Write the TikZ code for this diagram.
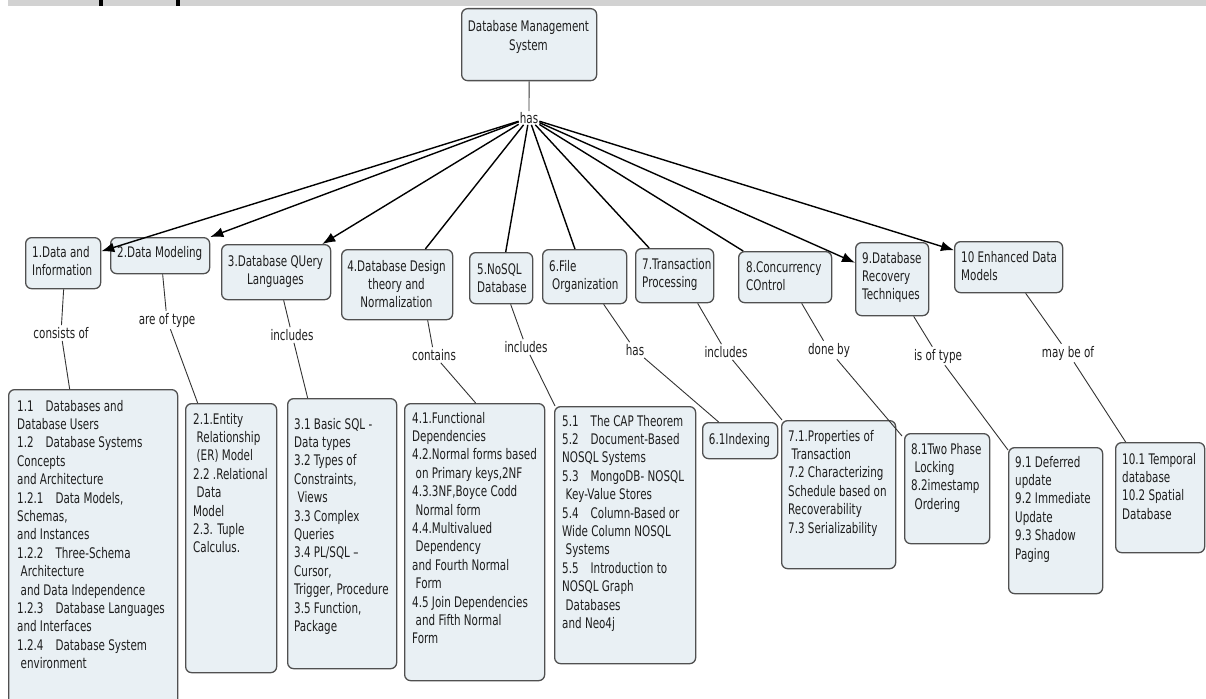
\documentclass[tikz,border=0pt]{standalone}
\usepackage{fontspec}
\setmainfont[FakeStretch=0.71]{DejaVu Sans}
\usetikzlibrary{arrows.meta,calc}
\definecolor{boxfill}{RGB}{233,240,244}
\definecolor{boxline}{RGB}{80,80,80}
\definecolor{txt}{RGB}{30,30,30}
\definecolor{barg}{RGB}{210,210,210}
\newcommand\tb{\hspace{12pt}}
\newcommand\ind{\hspace{3.5pt}}
\tikzset{
  cbox/.style={draw=boxline, fill=boxfill, line width=1.3pt, rounded corners=6pt, rectangle, inner sep=0pt},
  ctext/.style={text=txt, inner sep=0pt, font=\fontsize{14.6}{18.4}\selectfont, align=left},
  ctextc/.style={ctext, align=center},
  lbl/.style={text=txt, inner sep=2pt, font=\fontsize{14.6}{18.4}\selectfont},
  link/.style={draw=black!80, line width=0.9pt},
  hasline/.style={draw=black, line width=1.4pt},
  hasarrow/.style={hasline, -{Latex[length=13pt,width=10pt]}},
}
\begin{document}
\begin{tikzpicture}[x=1pt,y=-1pt]
\useasboundingbox (0,0) rectangle (1206,698);
\fill[white] (0,0) rectangle (1206,698);
\clip (0,0) rectangle (1206,698);
% top bar
\fill[barg] (8,0) rectangle (1206,6);
\fill[black] (99,0) rectangle (103,6);
\fill[black] (176,0) rectangle (180,6);

% root
\node[cbox, minimum width=135, minimum height=72, anchor=north west] (root) at (461,8) {};
\node[ctextc, anchor=north] (roott) at (528.5,18.8) {\strut Database Management\\System};
\node[lbl, inner sep=1pt] (has) at (529,118) {has};
\draw[link] (root) -- (has);

% level 1
\node[cbox, minimum width=75, minimum height=51, anchor=north west] (n1) at (25,237) {};
\node[cbox, minimum width=99, minimum height=36, anchor=north west] (n2) at (110,237) {};
\node[cbox, minimum width=109, minimum height=55, anchor=north west] (n3) at (221,244) {};
\node[cbox, minimum width=111, minimum height=70, anchor=north west] (n4) at (341,249) {};
\node[cbox, minimum width=63, minimum height=51, anchor=north west] (n5) at (469,252) {};
\node[cbox, minimum width=84, minimum height=54, anchor=north west] (n6) at (542,249) {};
\node[cbox, minimum width=78, minimum height=54, anchor=north west] (n7) at (635,248) {};
\node[cbox, minimum width=93, minimum height=51, anchor=north west] (n8) at (738,251) {};
\node[cbox, minimum width=73, minimum height=73, anchor=north west] (n9) at (855,242) {};
\node[cbox, minimum width=108, minimum height=51, anchor=north west] (n10) at (954,241) {};

\node[ctext, anchor=north west] (t1) at (32,244) {\strut 1.Data and\\Information};
\node[ctext, anchor=north west] (t2) at (117,244) {\strut 2.Data Modeling};
\node[ctextc, anchor=north] (t3) at (275.5,253) {\strut 3.Database QUery\\Languages};
\node[ctextc, anchor=north] (t4) at (396.5,258) {\strut 4.Database Design\\theory and\\Normalization};
\node[ctext, anchor=north west] (t5) at (477,261) {\strut 5.NoSQL\\Database};
\node[ctext, anchor=north west] (t6) at (549,258) {\strut 6.File\\\hspace{3pt}Organization};
\node[ctext, anchor=north west] (t7) at (642,256) {\strut 7.Transaction\\Processing};
\node[ctext, anchor=north west] (t8) at (746,259) {\strut 8.Concurrency\\COntrol};
\node[ctext, anchor=north west] (t9) at (862,250) {\strut 9.Database\\Recovery\\Techniques};
\node[ctext, anchor=north west] (t10) at (961,249) {\strut 10 Enhanced Data\\Models};

\draw[hasarrow] (has) -- (n1);
\draw[hasarrow] (has) -- (n2);
\draw[hasarrow] (has) -- (n3);
\draw[hasline] (has) -- (n4);
\draw[hasline] (has) -- (n5);
\draw[hasline] (has) -- (n6);
\draw[hasline] (has) -- (n7);
\draw[hasline] (has) -- (n8);
\draw[hasarrow] (has) -- (n9);
\draw[hasarrow] (has) -- (n10);

% linking phrases
\node[lbl] (l1) at (61,333) {consists of};
\node[lbl] (l2) at (167,320) {are of type};
\node[lbl] (l3) at (292,335) {includes};
\node[lbl] (l4) at (434,355) {contains};
\node[lbl] (l5) at (526,347) {includes};
\node[lbl] (l6) at (635,350) {has};
\node[lbl] (l7) at (726,352) {includes};
\node[lbl] (l8) at (829,350) {done by};
\node[lbl] (l9) at (938,356) {is of type};
\node[lbl] (l10) at (1068,353) {may be of};

% level 2 boxes
\node[cbox, minimum width=169, minimum height=340, anchor=north west] (c1) at (8,389) {};
\node[cbox, minimum width=91, minimum height=269, anchor=north west] (c2) at (185,403) {};
\node[cbox, minimum width=109, minimum height=270, anchor=north west] (c3) at (287,398) {};
\node[cbox, minimum width=140, minimum height=277, anchor=north west] (c4) at (404,403) {};
\node[cbox, minimum width=141, minimum height=257, anchor=north west] (c5) at (554,406) {};
\node[cbox, minimum width=75, minimum height=36, anchor=north west] (c6) at (702,422) {};
\node[cbox, minimum width=114, minimum height=148, anchor=north west] (c7) at (781,420) {};
\node[cbox, minimum width=85, minimum height=110, anchor=north west] (c8) at (904,433) {};
\node[cbox, minimum width=94, minimum height=146, anchor=north west] (c9) at (1008,447) {};
\node[cbox, minimum width=89, minimum height=110, anchor=north west] (c10) at (1115,442) {};

\node[ctext, anchor=north west] (d1) at (17,398) {\strut 1.1\tb Databases and\\Database Users\\1.2\tb Database Systems\\Concepts\\and Architecture\\1.2.1\tb Data Models,\\Schemas,\\and Instances\\1.2.2\tb Three-Schema\\\ind Architecture\\\ind and Data Independence\\1.2.3\tb Database Languages\\and Interfaces\\1.2.4\tb Database System\\\ind environment};
\node[ctext, anchor=north west] (d2) at (193,411) {\strut 2.1.Entity\\\ind Relationship\\\ind (ER) Model\\2.2 .Relational\\\ind Data\\Model\\2.3. Tuple\\Calculus.};
\node[ctext, anchor=north west] (d3) at (294,416) {\strut 3.1 Basic SQL -\\Data types\\3.2 Types of\\Constraints,\\\ind Views\\3.3 Complex\\Queries\\3.4 PL/SQL –\\Cursor,\\Trigger, Procedure\\3.5 Function,\\Package};
\node[ctext, anchor=north west] (d4) at (412,410) {\strut 4.1.Functional\\Dependencies\\4.2.Normal forms based\\\ind on Primary keys,2NF\\4.3.3NF,Boyce Codd\\\ind Normal form\\4.4.Multivalued\\\ind Dependency\\and Fourth Normal\\\ind Form\\4.5 Join Dependencies\\\ind and Fifth Normal\\Form};
\node[ctext, anchor=north west] (d5) at (562,413) {\strut 5.1\tb The CAP Theorem\\5.2\tb Document-Based\\NOSQL Systems\\5.3\tb MongoDB- NOSQL\\\ind Key-Value Stores\\5.4\tb Column-Based or\\Wide Column NOSQL\\\ind Systems\\5.5\tb Introduction to\\NOSQL Graph\\\ind Databases\\and Neo4j};
\node[ctextc, anchor=north] (d6) at (739.5,431) {\strut 6.1Indexing};
\node[ctext, anchor=north west] (d7) at (788,428) {\strut 7.1.Properties of\\\ind Transaction\\7.2 Characterizing\\Schedule based on\\Recoverability\\7.3 Serializability};
\node[ctext, anchor=north west] (d8) at (911,441) {\strut 8.1Two Phase\\\ind Locking\\8.2imestamp\\\ind Ordering};
\node[ctext, anchor=north west] (d9) at (1015,454) {\strut 9.1 Deferred\\update\\9.2 Immediate\\Update\\9.3 Shadow\\Paging};
\node[ctext, anchor=north west] (d10) at (1122,451) {\strut 10.1 Temporal\\database\\10.2 Spatial\\Database};

% connectors parent -> phrase -> child
\draw[link] ([xshift=0.5pt]n1.south) -- (l1);
\draw[link] (l1) -- ([xshift=-23.5pt]c1.north);
\draw[link] ([xshift=2.5pt]n2.south) -- (l2);
\draw[link] (l2) -- ([xshift=-33.5pt]c2.north);
\draw[link] ([xshift=7.5pt]n3.south) -- (l3);
\draw[link] (l3) -- ([xshift=-34.5pt]c3.north);
\draw[link] ([xshift=30.5pt]n4.south) -- (l4);
\draw[link] (l4) -- ([xshift=1pt]c4.north);
\draw[link] ([xshift=9.5pt]n5.south) -- (l5);
\draw[link] (l5) -- ([xshift=1pt]c5.north west);
\draw[link] ([xshift=19pt]n6.south) -- (l6);
\draw[link] (l6) -- ([xshift=-21.5pt]c6.north);
\draw[link] ([xshift=23pt]n7.south) -- (l7);
\draw[link] (l7) -- ([xshift=1pt]c7.north west);
\draw[link] ([xshift=16.5pt]n8.south) -- (l8);
\draw[link] (l8) -- ([xshift=-2pt,yshift=-3pt]c8.north west);
\draw[link] ([xshift=21.5pt]n9.south) -- (l9);
\draw[link] (l9) -- ([yshift=-3pt]c9.north west);
\draw[link] ([xshift=17pt]n10.south) -- (l10);
\draw[link] (l10) -- ([xshift=-34.5pt]c10.north);
\end{tikzpicture}
\end{document}
